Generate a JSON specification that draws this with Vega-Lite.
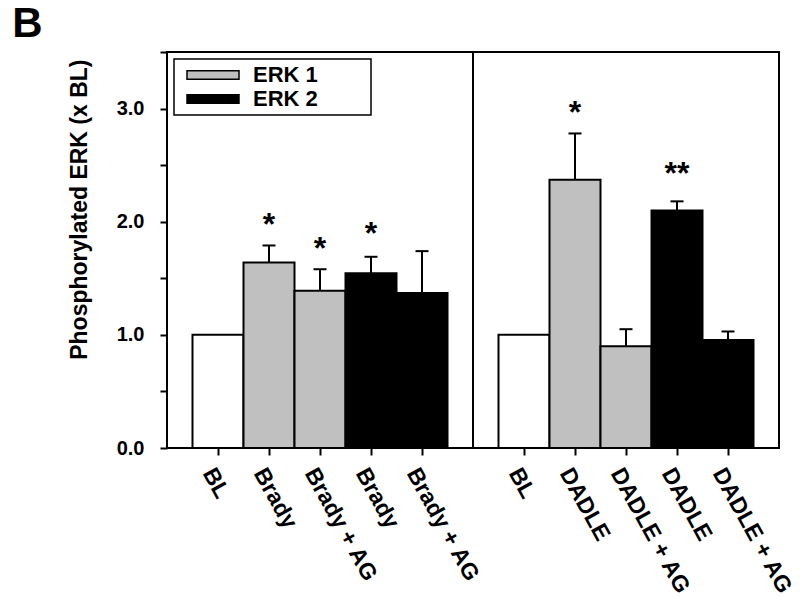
{
  "$schema": "https://vega.github.io/schema/vega-lite/v6.json",
  "padding": {"left": 12, "top": 3, "right": 20, "bottom": 5},
  "background": "white",
  "bounds": "flush",
  "title": {"text": "B", "anchor": "start", "frame": "bounds", "fontSize": 42, "font": "Liberation Sans", "fontWeight": "bold", "color": "black", "dx": -55, "offset": 4},
  "config": {
    "view": {"stroke": "black", "strokeWidth": 2},
    "font": "Liberation Sans",
    "legend": {"strokeWidth": 1.5},
    "axis": {"labelColor": "black", "titleColor": "black", "tickColor": "black", "labelFont": "Liberation Sans", "titleFont": "Liberation Sans"}
  },
  "datasets": {
    "brady": [
      {"id": "BL|1", "group": "BL", "value": 1.0, "upper": null, "star": "", "starY": null},
      {"id": "Brady|1", "group": "ERK 1", "value": 1.64, "upper": 1.79, "star": "*", "starY": 1.99},
      {"id": "Brady + AG|1", "group": "ERK 1", "value": 1.39, "upper": 1.58, "star": "*", "starY": 1.78},
      {"id": "Brady|2", "group": "ERK 2", "value": 1.545, "upper": 1.69, "star": "*", "starY": 1.91},
      {"id": "Brady + AG|2", "group": "ERK 2", "value": 1.37, "upper": 1.74, "star": "", "starY": null}
    ],
    "dadle": [
      {"id": "BL|3", "group": "BL", "value": 1.0, "upper": null, "star": "", "starY": null},
      {"id": "DADLE|1", "group": "ERK 1", "value": 2.37, "upper": 2.78, "star": "*", "starY": 2.98},
      {"id": "DADLE + AG|1", "group": "ERK 1", "value": 0.9, "upper": 1.05, "star": "", "starY": null},
      {"id": "DADLE|2", "group": "ERK 2", "value": 2.1, "upper": 2.18, "star": "**", "starY": 2.44},
      {"id": "DADLE + AG|2", "group": "ERK 2", "value": 0.955, "upper": 1.03, "star": "", "starY": null}
    ]
  },
  "spacing": 0,
  "resolve": {"scale": {"x": "independent", "color": "independent"}},
  "hconcat": [
    {
      "width": 306,
      "height": 396,
      "data": {"name": "brady"},
      "encoding": {
        "x": {"field": "id", "type": "nominal", "sort": null, "title": null,
              "scale": {"paddingInner": 0, "paddingOuter": 0.5},
              "axis": {"labelExpr": "split(datum.value, '|')[0]", "labelAngle": 61, "labelAlign": "left", "labelBaseline": "top", "labelFontSize": 23, "labelFontWeight": "bold", "tickSize": 7, "tickWidth": 2, "domain": false, "labelPadding": 9}},
        "y": {"field": "value", "type": "quantitative", "scale": {"domain": [0, 3.5]},
              "axis": {"values": [0, 0.5, 1, 1.5, 2, 2.5, 3, 3.5], "labelExpr": "datum.value % 1 === 0 ? format(datum.value, '.1f') : ''", "title": "Phosphorylated ERK (x BL)", "titleFontSize": 23, "titleFontWeight": "bold", "titlePadding": 25, "titleAnchor": "end", "titleY": 7, "labelFontSize": 20, "labelFontWeight": "bold", "grid": false, "domain": false, "tickSize": 7, "tickWidth": 2, "labelPadding": 16}}
      },
      "layer": [
        {
          "mark": {"type": "bar", "stroke": "black", "strokeWidth": 2},
          "encoding": {
            "color": {"field": "group", "type": "nominal",
                      "scale": {"domain": ["BL", "ERK 1", "ERK 2"], "range": ["white", "#c0c0c0", "black"]},
                      "legend": {"values": ["ERK 1", "ERK 2"], "title": null, "orient": "top-left", "offset": 7, "padding": 5, "strokeColor": "black", "fillColor": "white", "symbolType": "M-0.3,-0.42H4.9V0.42H-0.3Z", "symbolSize": 400, "symbolStrokeColor": "black", "symbolStrokeWidth": 1.5, "labelFontSize": 22, "labelFontWeight": "bold", "labelColor": "black", "labelOffset": 52, "rowPadding": 2, "labelExpr": "datum.label + '\u2800\u2800\u2800'"}}
          }
        },
        {
          "transform": [{"filter": "isValid(datum.upper)"}],
          "mark": {"type": "rule", "strokeWidth": 2, "color": "black"},
          "encoding": {"y2": {"field": "upper"}}
        },
        {
          "transform": [{"filter": "isValid(datum.upper)"}],
          "mark": {"type": "tick", "thickness": 2, "size": 13, "color": "black", "opacity": 1},
          "encoding": {"y": {"field": "upper", "type": "quantitative"}}
        },
        {
          "transform": [{"filter": "datum.star != ''"}],
          "mark": {"type": "text", "fontSize": 32, "fontWeight": "bold", "color": "black", "baseline": "alphabetic", "dy": 12},
          "encoding": {"y": {"field": "starY", "type": "quantitative"}, "text": {"field": "star"}}
        }
      ]
    },
    {
      "width": 306,
      "height": 396,
      "data": {"name": "dadle"},
      "encoding": {
        "x": {"field": "id", "type": "nominal", "sort": null, "title": null,
              "scale": {"paddingInner": 0, "paddingOuter": 0.5},
              "axis": {"labelExpr": "split(datum.value, '|')[0]", "labelAngle": 61, "labelAlign": "left", "labelBaseline": "top", "labelFontSize": 23, "labelFontWeight": "bold", "tickSize": 7, "tickWidth": 2, "domain": false, "labelPadding": 9}},
        "y": {"field": "value", "type": "quantitative", "scale": {"domain": [0, 3.5]}, "axis": null}
      },
      "layer": [
        {
          "mark": {"type": "bar", "stroke": "black", "strokeWidth": 2},
          "encoding": {
            "color": {"field": "group", "type": "nominal",
                      "scale": {"domain": ["BL", "ERK 1", "ERK 2"], "range": ["white", "#c0c0c0", "black"]},
                      "legend": null}
          }
        },
        {
          "transform": [{"filter": "isValid(datum.upper)"}],
          "mark": {"type": "rule", "strokeWidth": 2, "color": "black"},
          "encoding": {"y2": {"field": "upper"}}
        },
        {
          "transform": [{"filter": "isValid(datum.upper)"}],
          "mark": {"type": "tick", "thickness": 2, "size": 13, "color": "black", "opacity": 1},
          "encoding": {"y": {"field": "upper", "type": "quantitative"}}
        },
        {
          "transform": [{"filter": "datum.star != ''"}],
          "mark": {"type": "text", "fontSize": 32, "fontWeight": "bold", "color": "black", "baseline": "alphabetic", "dy": 12},
          "encoding": {"y": {"field": "starY", "type": "quantitative"}, "text": {"field": "star"}}
        }
      ]
    }
  ]
}
